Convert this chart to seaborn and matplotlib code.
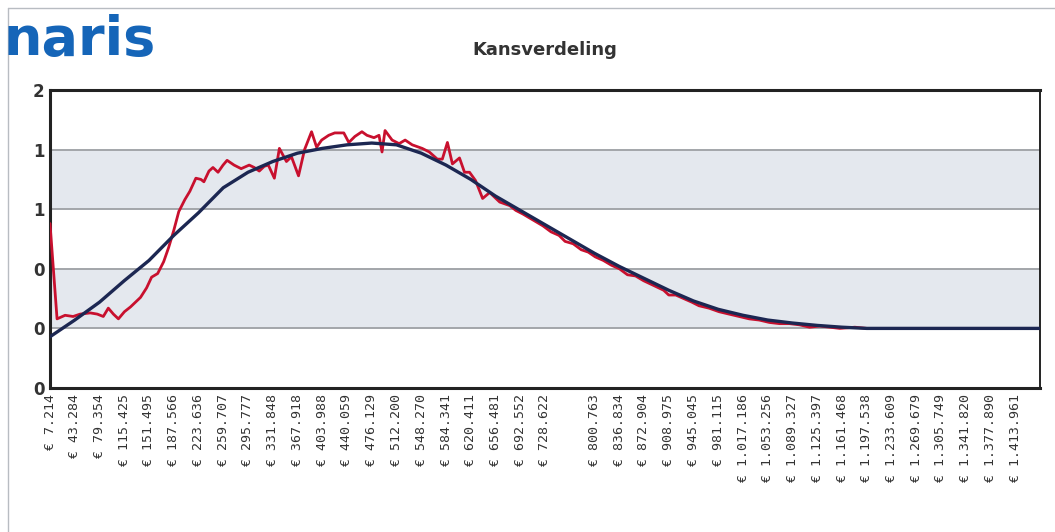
import matplotlib
matplotlib.use("Agg")
import matplotlib.pyplot as plt
import seaborn as sns

# --- data ------------------------------------------------------------
# euro amounts at the category labels (one label step = about 36.070)
bedragen = [7214, 43284, 79354, 115425, 151495, 187566, 223636, 259707,
            295777, 331848, 367918, 403988, 440059, 476129, 512200, 548270,
            584341, 620411, 656481, 692552, 728622, 764692, 800763, 836834,
            872904, 908975, 945045, 981115, 1017186, 1053256, 1089327,
            1125397, 1161468, 1197538, 1233609, 1269679, 1305749, 1341820,
            1377890, 1413961, 1450031]

tick_labels = ["€ 7.214", "€ 43.284", "€ 79.354", "€ 115.425", "€ 151.495",
               "€ 187.566", "€ 223.636", "€ 259.707", "€ 295.777", "€ 331.848",
               "€ 367.918", "€ 403.988", "€ 440.059", "€ 476.129", "€ 512.200",
               "€ 548.270", "€ 584.341", "€ 620.411", "€ 656.481", "€ 692.552",
               "€ 728.622", "", "€ 800.763", "€ 836.834", "€ 872.904",
               "€ 908.975", "€ 945.045", "€ 981.115", "€ 1.017.186",
               "€ 1.053.256", "€ 1.089.327", "€ 1.125.397", "€ 1.161.468",
               "€ 1.197.538", "€ 1.233.609", "€ 1.269.679", "€ 1.305.749",
               "€ 1.341.820", "€ 1.377.890", "€ 1.413.961"]

# fitted curve (dark blue), one value per label position
kans_fit = [-0.07, 0.07, 0.22, 0.40, 0.57, 0.78, 0.97, 1.18, 1.31, 1.40,
            1.47, 1.51, 1.54, 1.555, 1.54, 1.47, 1.37, 1.25, 1.11, 0.99,
            0.87, 0.75, 0.63, 0.52, 0.42, 0.32, 0.23, 0.16, 0.11, 0.07,
            0.045, 0.025, 0.01, 0.0, 0.0, 0.0, 0.0, 0.0, 0.0, 0.0, 0.0]

# simulated distribution (red)
sim_bedrag = [7214, 17500, 29200, 40900, 51200, 65900, 76100, 84900, 92200,
              99600, 106900, 115700, 124500, 139100, 148000, 155300, 164100,
              172900, 180200, 187500, 194900, 203700, 211000, 219800, 227100,
              231500, 238900, 244700, 252100, 259400, 265300, 275500, 285800,
              297500, 304900, 312200, 319500, 325400, 334200, 341500, 351800,
              359100, 369400, 378200, 388400, 395800, 403100, 413400, 422200,
              435400, 442700, 451500, 461800, 469100, 479400, 486700, 491100,
              495500, 505800, 516000, 524800, 535100, 549700, 560000, 571700,
              579000, 586400, 593700, 604000, 611300, 618600, 627400, 637700,
              648000, 662600, 677300, 686100, 696300, 711000, 725700, 737400,
              749100, 757900, 769700, 781400, 791700, 801900, 813700, 825400,
              837100, 848800, 860600, 872300, 887000, 901600, 909000, 919200,
              930900, 942700, 953000, 967600, 982300, 996900, 1011600,
              1026300, 1040900, 1055600, 1070300, 1084900, 1099600, 1114300,
              1128900, 1143600, 1158300, 1180200, 1197800, 1216900]
sim_kans = [0.88, 0.08, 0.11, 0.10, 0.12, 0.13, 0.12, 0.10, 0.17, 0.12,
            0.08, 0.14, 0.18, 0.26, 0.34, 0.43, 0.46, 0.56, 0.68, 0.82,
            0.98, 1.08, 1.15, 1.26, 1.25, 1.23, 1.32, 1.35, 1.31, 1.37,
            1.41, 1.37, 1.34, 1.37, 1.35, 1.32, 1.36, 1.37, 1.26, 1.51,
            1.40, 1.44, 1.28, 1.50, 1.65, 1.52, 1.58, 1.62, 1.64, 1.64,
            1.56, 1.61, 1.65, 1.62, 1.60, 1.62, 1.48, 1.66, 1.58, 1.55,
            1.58, 1.54, 1.51, 1.48, 1.42, 1.42, 1.56, 1.38, 1.43, 1.31,
            1.31, 1.24, 1.09, 1.14, 1.06, 1.03, 0.99, 0.96, 0.91, 0.86,
            0.81, 0.78, 0.73, 0.71, 0.66, 0.64, 0.60, 0.57, 0.53, 0.50,
            0.45, 0.44, 0.40, 0.36, 0.32, 0.28, 0.28, 0.25, 0.22, 0.19,
            0.17, 0.14, 0.12, 0.10, 0.08, 0.07, 0.05, 0.04, 0.04, 0.03,
            0.01, 0.02, 0.01, 0.00, 0.01, 0.00, 0.00]

y_ticks = [-0.5, 0, 0.5, 1.0, 1.5, 2.0]
y_labels = ["0", "0", "0", "1", "1", "2"]

# --- plot ------------------------------------------------------------
sns.set_style("white")
fig = plt.figure(figsize=(10.55, 5.32), dpi=100)
ax = fig.add_axes([50 / 1055, 144 / 532, 990 / 1055, 298 / 532])
ax.set_facecolor("white")

# shaded bands + grid lines
for lo, hi in [(0, 0.5), (1.0, 1.5)]:
    ax.axhspan(lo, hi, facecolor="#e4e8ee", edgecolor="none", zorder=0.5)
for g in [0, 0.5, 1.0, 1.5]:
    ax.axhline(g, color="#a3a6aa", lw=1.4, zorder=1)

sns.lineplot(x=sim_bedrag, y=sim_kans, color="#c8102e", lw=2.0, ax=ax, zorder=3)
sns.lineplot(x=bedragen, y=kans_fit, color="#1c2752", lw=2.4, ax=ax, zorder=4)

ax.set_xlim(bedragen[0], bedragen[-1])
ax.set_ylim(-0.5, 2.0)
ax.set_xticks(bedragen[:-1])
ax.set_xticklabels(tick_labels, rotation=90, family="DejaVu Sans Mono",
                   fontsize=9.5, color="#333333")
ax.set_yticks(y_ticks)
ax.set_yticklabels(y_labels, fontsize=12, fontweight="bold", color="#333333")
ax.tick_params(length=0, pad=4)

for side in ["left", "bottom", "top"]:
    ax.spines[side].set_color("#222222")
    ax.spines[side].set_linewidth(2.2)
ax.spines["right"].set_color("#222222")
ax.spines["right"].set_linewidth(1.4)

fig.text(545 / 1055, 1 - 50 / 532, "Kansverdeling", ha="center", va="center",
         fontsize=13, fontweight="bold", color="#333333")
fig.text(3 / 1055, 1 - 55 / 532, "naris", ha="left", va="baseline",
         fontsize=39, fontweight="bold", color="#1565b8", family="DejaVu Sans")

# thin page border from the scan
fig.add_artist(plt.Line2D([8 / 1055, 8 / 1055], [0, 0.985], color="#b8bcc2", lw=1))
fig.add_artist(plt.Line2D([8 / 1055, 1], [0.985, 0.985], color="#b8bcc2", lw=1))

fig.savefig("out.png", dpi=100)
